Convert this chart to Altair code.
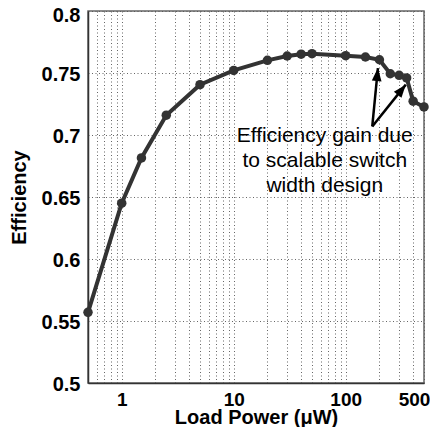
import altair as alt
import pandas as pd

# ---- data ----
load_power = [0.5, 1, 1.5, 2.5, 5, 10, 20, 30, 40, 50, 100, 150, 200, 250, 300, 350, 400, 500]
efficiency = [0.557, 0.645, 0.6815, 0.716, 0.7406, 0.7521, 0.7602, 0.7637, 0.7652, 0.7656,
              0.764, 0.7629, 0.7607, 0.7494, 0.7481, 0.746, 0.7273, 0.7226]

x_grid_values = [0.5, 0.6, 0.7, 0.8, 0.9, 1, 2, 3, 4, 5, 6, 7, 8, 9,
                 10, 20, 30, 40, 50, 60, 70, 80, 90, 100, 200, 300, 400, 500]
x_label_values = [1, 10, 100, 500]
y_tick_values = [0.5, 0.55, 0.6, 0.65, 0.7, 0.75, 0.8]

# annotation (data coordinates)
arrow_tail_x = [172.6, 172.6]
arrow_tail_y = [0.7069, 0.7069]
arrow_tip_x = [193.9, 343.8]
arrow_tip_y = [0.754, 0.7406]
arrow_angle = [5.5, 38.6]
note_text = "Efficiency gain due\nto scalable switch\nwidth design"
note_x = [65.0]
note_y = [0.6989]

FONT = "Liberation Sans"
INK = "#333333"

curve = pd.DataFrame({"power": load_power, "eff": efficiency})
arrows = pd.DataFrame({"x0": arrow_tail_x, "y0": arrow_tail_y,
                       "x1": arrow_tip_x, "y1": arrow_tip_y, "ang": arrow_angle})
note = pd.DataFrame({"x": note_x, "y": note_y, "t": [note_text]})

xscale = alt.Scale(type="log", domain=[0.5, 500], nice=False)
yscale = alt.Scale(domain=[0.5, 0.8], nice=False, zero=False)

label_expr = "indexof(" + str(x_label_values) + ", datum.value) >= 0 ? toString(datum.value) : ''"

x_axis = alt.Axis(values=x_grid_values, labelExpr=label_expr, title="Load Power (\u03bcW)",
                  labelOverlap=False, labelFlush=False, labelBound=False, ticks=False,
                  labelFontSize=19,
                  labelOffset={"condition": {"test": "datum.value == 500", "value": -10}, "value": 0},
                  labelPadding=7, titleY=40, titleBaseline="alphabetic")
y_axis = alt.Axis(values=y_tick_values, format="~g", title="Efficiency", ticks=False,
                  labelPadding=8, labelOverlap=False, labelBound=False, labelFlush=False,
                  labelOffset={"condition": {"test": "datum.value == 0.8", "value": 4}, "value": 1},
                  titleX=-62.5, titleY=186,
                  titleAngle=270, titleBaseline="alphabetic", titleAlign="center")


def X(field):
    return alt.X(field, type="quantitative", scale=xscale, axis=x_axis)


def Y(field):
    return alt.Y(field, type="quantitative", scale=yscale, axis=y_axis)


base = alt.Chart(curve)
line = base.mark_line(color=INK, strokeWidth=4, clip=False).encode(x=X("power"), y=Y("eff"))
dots = base.mark_circle(color=INK, size=90, opacity=1, clip=False).encode(x=X("power"), y=Y("eff"))

shafts = alt.Chart(arrows).mark_rule(color="black", strokeWidth=2.5).encode(
    x=X("x0"), y=Y("y0"), x2="x1:Q", y2="y1:Q",
)
heads = alt.Chart(arrows).mark_point(
    shape="M0,0 L-0.75,2 L0.75,2 Z", filled=True, color="black", opacity=1, size=169
).encode(
    x=X("x1"), y=Y("y1"),
    angle=alt.Angle("ang:Q", scale=None),
)
label = alt.Chart(note).mark_text(
    font=FONT, fontSize=21, color="black", align="center", baseline="middle",
    lineBreak="\n", lineHeight=25
).encode(x=X("x"), y=Y("y"), text="t:N")

chart = alt.layer(line, dots, shafts, heads, label).properties(
    width=336, height=372,
    background="white",
    padding={"left": 80, "top": 3, "right": 6, "bottom": 44},
    autosize=alt.AutoSizeParams(type="none"),
).configure_axis(
    labelFont=FONT, titleFont=FONT, labelFontSize=20, titleFontSize=20,
    labelFontWeight="bold", titleFontWeight="bold", labelColor="black", titleColor="black",
    domainColor=INK, domainWidth=1.5,
    gridColor="#555555", gridDash=[1, 2.5], gridWidth=1, gridOpacity=0.9,
).configure_view(stroke="#666666", strokeWidth=1.5)

chart.save("out.html", embed_options={"renderer": "svg", "actions": False})
